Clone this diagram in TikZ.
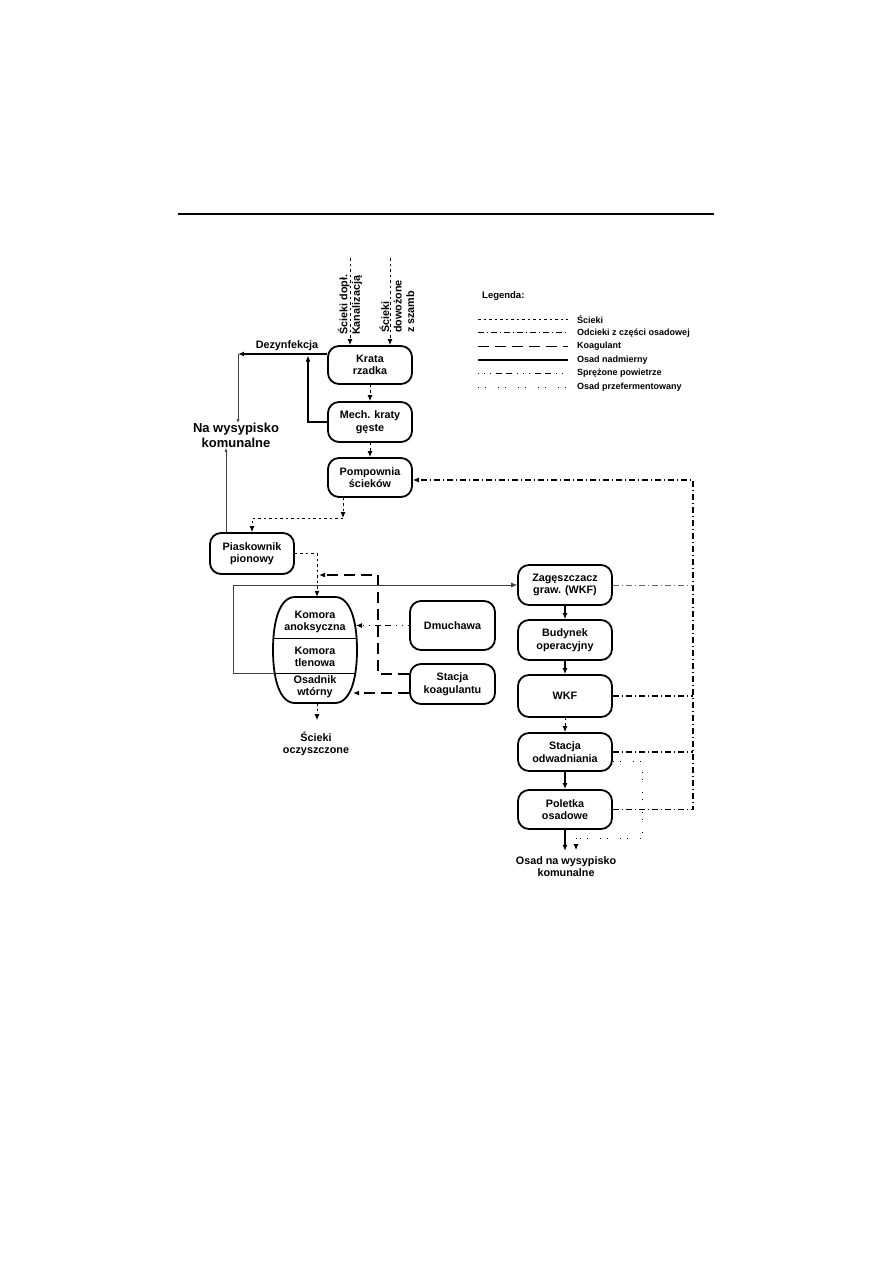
\documentclass[tikz,border=0pt]{standalone}
\usepackage{fontspec}
\setmainfont{Liberation Sans}
\usepackage{tikz}
\usetikzlibrary{positioning, arrows.meta}

\tikzset{
  box/.style={draw, line width=1.8pt, rounded corners=11pt, minimum width=84pt,
    minimum height=40pt, align=center, inner sep=1pt,
    font=\fontsize{10.8}{12.5}\selectfont\bfseries},
  txt/.style={align=center, inner sep=0pt, font=\fontsize{10.8}{12.5}\selectfont\bfseries},
  legtxt/.style={anchor=west, inner sep=0pt, font=\fontsize{9}{11}\selectfont\bfseries},
  sciek/.style={line width=1pt, dash pattern=on 2.5pt off 3pt},
  odciek/.style={line width=1.1pt, dash pattern=on 6pt off 3pt on 1pt off 3pt},
  koagul/.style={line width=1.2pt, dash pattern=on 11pt off 6pt},
  nadmiar/.style={line width=0.7pt, black!75},
  powietrze/.style={line width=1pt, dash pattern=on 1pt off 5pt on 1pt off 5pt on 1pt off 5pt on 6pt off 4pt on 6pt off 5pt},
  ferment/.style={line width=1pt, dash pattern=on 1pt off 6pt on 1pt off 12pt},
  arr/.style={-{Latex[length=6pt,width=5pt]}},
  smallarr/.style={-{Latex[length=4pt,width=3pt]}},
}

\begin{document}
\begin{tikzpicture}[x=1pt, y=-1pt]
\useasboundingbox (0,0) rectangle (893,1263);
\draw[line width=1.2pt] (178,214) -- (714,214);

% boxes
\node[box, minimum height=38pt] (krata) at (370,365) {Krata\\rzadka};
\node[box] (mech) at (370,422) {Mech. kraty\\gęste};
\node[box, minimum height=39pt] (pomp) at (370,477.5) {Pompownia\\ścieków};
\node[box, minimum height=41pt] (piask) at (252,553.5) {Piaskownik\\pionowy};
\node[box, minimum width=85pt, minimum height=49pt] (dmuch) at (452.5,625.5) {Dmuchawa};
\node[box, minimum width=85pt] (koag) at (452.5,684) {Stacja\\koagulantu};
\node[box, minimum width=94pt] (zag) at (565,585) {Zagęszczacz\\graw. (WKF)};
\node[box, minimum width=94pt] (bud) at (565,640) {Budynek\\operacyjny};
\node[box, minimum width=94pt, minimum height=42pt] (wkf) at (565,696) {WKF};
\node[box, minimum width=94pt, minimum height=38pt] (stac) at (565,752) {Stacja\\odwadniania};
\node[box, minimum width=94pt, minimum height=39pt] (pol) at (565,809.5) {Poletka\\osadowe};

% komory
\node[minimum width=84pt, minimum height=106pt, inner sep=0pt] (komory) at (315,650) {};
\draw[line width=1.8pt] (295,597) -- (335,597) .. controls (350,597) and (357,620) .. (357,650)
  .. controls (357,680) and (350,703) .. (335,703) -- (295,703)
  .. controls (280,703) and (273,680) .. (273,650) .. controls (273,620) and (280,597) .. (295,597) -- cycle;
\draw[line width=1pt] (274,638) -- (356,638);
\draw[line width=1pt] (274.5,673) coordinate (osdiv) -- (355.5,673);
\node[txt] (anoks) at (315,622) {Komora\\anoksyczna};
\node[txt] (tlen) at (315,657) {Komora\\tlenowa};
\node[txt] (osadn) at (315,686.5) {Osadnik\\wtórny};

% texts
\node[txt, rotate=90, anchor=west, align=left] (in1) at (350,335) {Ścieki dopł.\\Kanalizacją};
\node[txt, rotate=90, anchor=west, align=left] (in2) at (397,333) {Ścieki\\dowożone\\z szamb};
\node[txt] (dez) at (287,346) {Dezynfekcja};
\node[txt, font=\fontsize{13}{15}\selectfont\bfseries] (wys) at (236,435.5) {Na wysypisko\\komunalne};
\node[txt] (oczysz) at (316,744) {Ścieki\\oczyszczone};
\node[txt] (osadwys) at (566,866.5) {Osad na wysypisko\\komunalne};

% legend
\node[legtxt, font=\fontsize{9.5}{11}\selectfont\bfseries] (leg) at (482,296) {Legenda:};
\foreach \st/\lab [count=\i] in {sciek/Ścieki, odciek/Odcieki z części osadowej,
    koagul/Koagulant, nadmiar/Osad nadmierny, powietrze/Sprężone powietrze,
    ferment/Osad przefermentowany}
  {
  \draw[\st, black, line width=1.2pt] (478,{305.5+13.6*\i}) -- (568,{305.5+13.6*\i});
  \node[legtxt] at (577,{305.5+13.6*\i}) {\lab};
  }

% inflow
\coordinate (top1) at (350,258);
\coordinate (top2) at (390,258);
\draw[sciek, arr] (top1) -- (krata.north -| top1);
\draw[sciek, arr] (top2) -- (krata.north -| top2);
\draw[sciek, arr] (krata) -- (mech);
\draw[sciek, arr] (mech) -- (pomp);

% skratki
\coordinate (dezl) at (238,354);
\coordinate (dezup) at (308,355.5);
\draw[line width=1.3pt, arr] ([yshift=11pt]krata.west) -- (dezl);
\draw[line width=1.3pt, arr] (mech.west) -| (dezup);
\draw[nadmiar, smallarr] (dezl) -- (wys.north -| dezl);
\draw[nadmiar, smallarr] ([xshift=-26pt]piask.north) -- ([xshift=-10pt]wys.south);

% sciezka sciekow
\coordinate (pp) at (343,518);
\draw[sciek, arr] (pomp.south -| pp) -- (pp);
\draw[sciek, arr] (pp) -| (piask.north);
\draw[sciek, arr] (piask.east) -| ([xshift=2pt]komory.north);
\draw[sciek, arr] ([xshift=2pt]komory.south) -- ++(0,17);

% powietrze i koagulant
\draw[powietrze, arr] (dmuch.west) -- (356,625.5);
\coordinate (kg) at (378,575);
\draw[koagul, arr] ([yshift=10pt]koag.west) -| (kg) -- (319,575);
\draw[koagul, arr] ([yshift=-9pt]koag.west) -- (353,693);

% osad nadmierny
\draw[nadmiar, arr] (osdiv) -| (233,585) -- (zag.west);

% ciag osadowy
\draw[line width=1.2pt, arr] (zag) -- (bud);
\draw[line width=1.2pt, arr] (bud) -- (wkf);
\draw[sciek, arr] (wkf) -- (stac);
\draw[line width=1.2pt, arr] (stac) -- (pol);
\draw[line width=1.2pt, arr] (pol.south) -- ++(0,21);
\draw[ferment] ([yshift=-9pt]stac.east) -| (642,838) -- (576,838);
\draw[ferment, arr] (576,838) -- (576,850);

% odcieki
\coordinate (odc) at (693,480);
\draw[odciek, arr] (pol.east) -| (odc) -- ([yshift=-2.5pt]pomp.east);
\draw[odciek] (wkf.east) -- (wkf.east -| odc);
\draw[odciek] (stac.east) -- (stac.east -| odc);
\draw[odciek, line width=0.6pt, black!60] (zag.east) -- (zag.east -| odc);
\end{tikzpicture}
\end{document}
